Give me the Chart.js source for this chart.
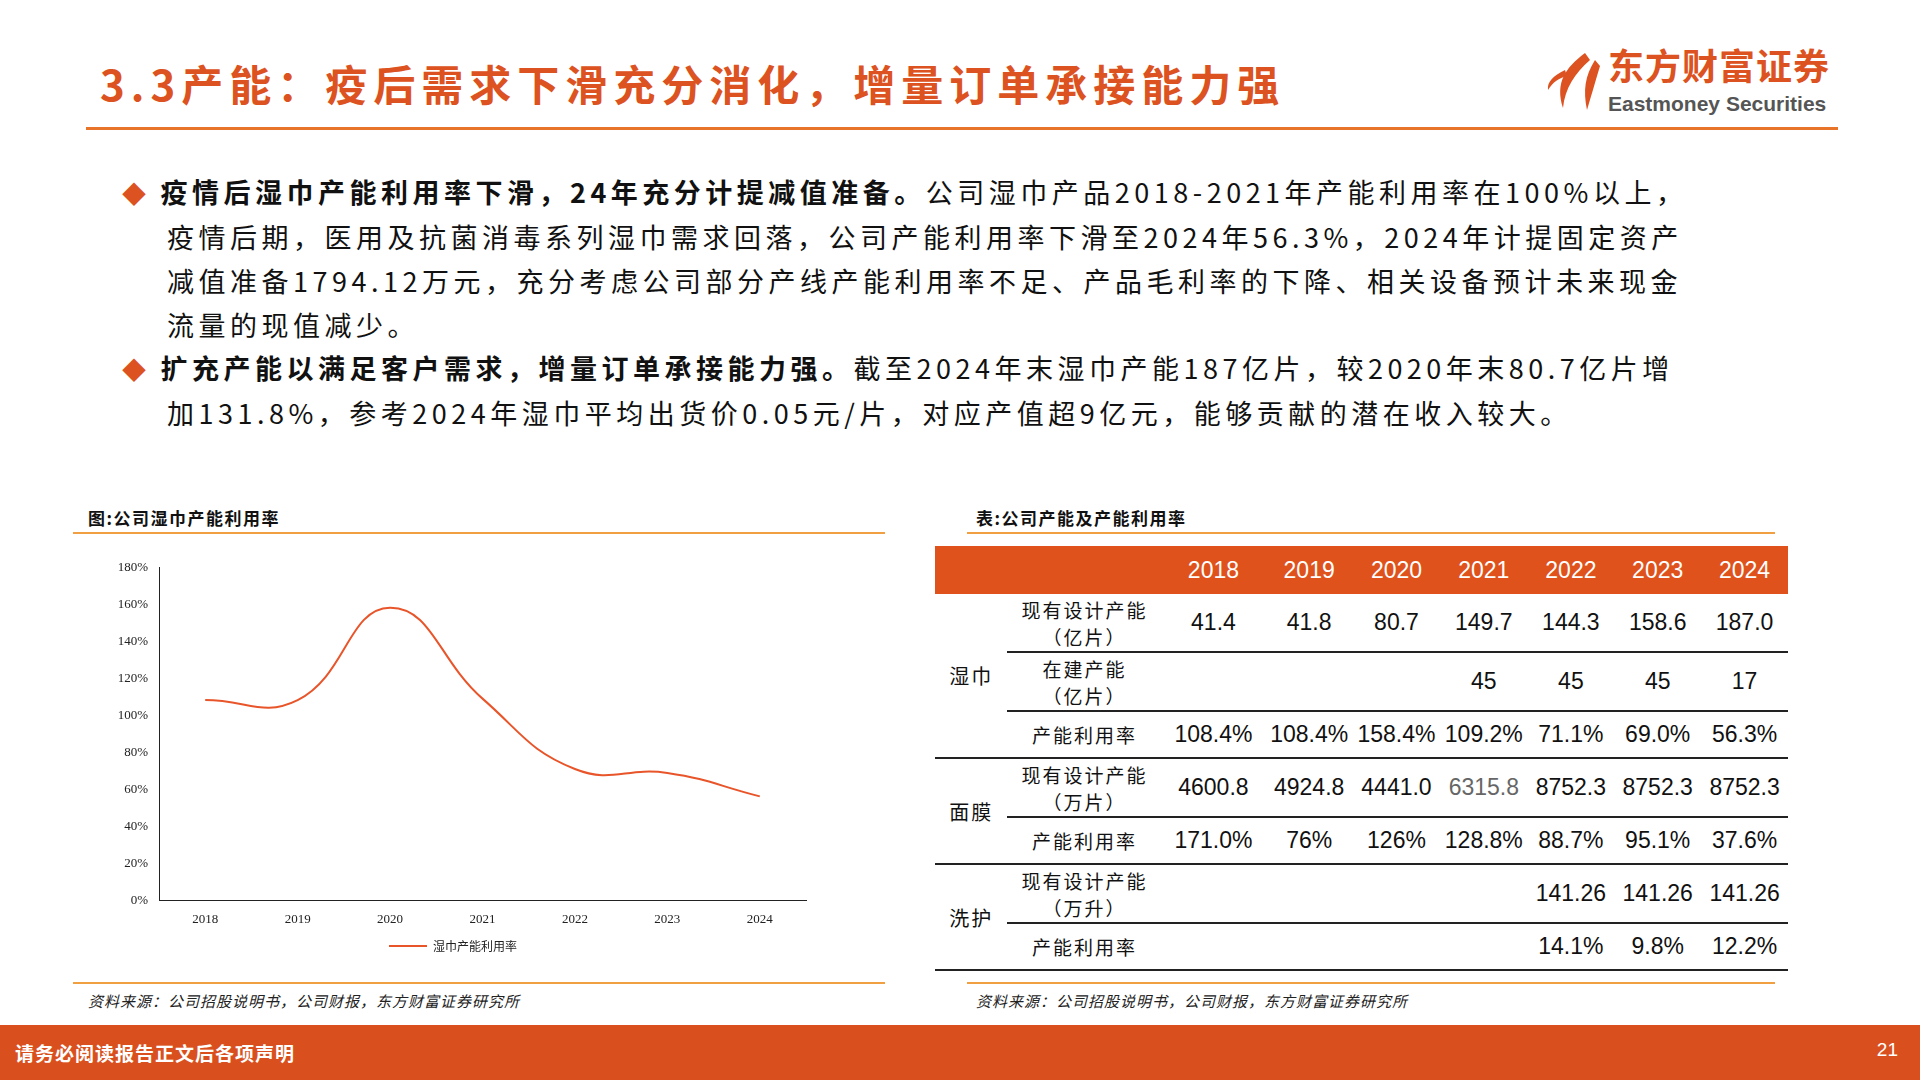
<!DOCTYPE html>
<html><head><meta charset="utf-8">
<script src="https://cdn.jsdelivr.net/npm/chart.js@4"></script>
<style>
body{margin:0;width:1920px;height:1080px;position:relative;background:#fff;font-family:"Noto Sans CJK SC",sans-serif;overflow:hidden}
.abs{position:absolute}
#title{left:100px;top:52px;font-size:42px;font-weight:bold;color:#dc5220;letter-spacing:6px}
#topline{left:86px;top:127px;width:1752px;height:3px;background:#e8742a}
.bul{left:122px;font-size:27px;color:#111;line-height:44px;width:1700px;letter-spacing:4.5px}
.bul b{font-weight:bold}
.dia{color:#dc5220;font-size:24px;margin-right:10px}
.sub{font-size:17px;font-weight:bold;color:#111;letter-spacing:1.5px}
.oline{height:2px;background:#f0a040}
.src{font-size:15px;font-style:italic;color:#222;letter-spacing:1px}
#foot{left:0;top:1025px;width:1920px;height:55px;background:#d9501e;color:#fff}
table{border-collapse:collapse;font-family:Arial,"Noto Sans CJK SC",sans-serif;font-size:23px;color:#111}
td{text-align:center;padding:0}
th{background:#e0521c;color:#fff;font-weight:normal;height:46px;font-size:23px}
</style></head><body>
<div class="abs" id="title">3.3产能：疫后需求下滑充分消化，增量订单承接能力强</div>
<div class="abs" style="left:1545px;top:48px;">
  <svg width="60" height="65" viewBox="0 0 60 65"><path d="M40 5 C20 20 10 35 18 60 C20 40 30 25 45 12Z" fill="#dc5220"/><path d="M50 12 C40 28 38 42 42 62 C48 42 52 28 55 18Z" fill="#dc5220"/><path d="M20 22 C8 28 2 34 3 42 C8 34 14 30 22 28Z" fill="#dc5220"/></svg>
</div>
<div class="abs" style="left:1608px;top:40px;font-size:36px;line-height:48px;font-weight:bold;color:#dc5220;letter-spacing:1px">东方财富证券</div>
<div class="abs" style="left:1608px;top:92px;font-size:21px;line-height:24px;font-weight:bold;color:#555;font-family:Arial">Eastmoney Securities</div>
<div class="abs" id="topline"></div>

<div class="abs bul" style="top:170px"><span class="dia">◆</span><b>疫情后湿巾产能利用率下滑，24年充分计提减值准备。</b>公司湿巾产品2018-2021年产能利用率在100%以上，<br><span style="margin-left:45px"></span>疫情后期，医用及抗菌消毒系列湿巾需求回落，公司产能利用率下滑至2024年56.3%，2024年计提固定资产<br><span style="margin-left:45px"></span>减值准备1794.12万元，充分考虑公司部分产线产能利用率不足、产品毛利率的下降、相关设备预计未来现金<br><span style="margin-left:45px"></span>流量的现值减少。</div>
<div class="abs bul" style="top:346px"><span class="dia">◆</span><b>扩充产能以满足客户需求，增量订单承接能力强。</b>截至2024年末湿巾产能187亿片，较2020年末80.7亿片增<br><span style="margin-left:45px"></span>加131.8%，参考2024年湿巾平均出货价0.05元/片，对应产值超9亿元，能够贡献的潜在收入较大。</div>

<div class="abs sub" style="left:88px;top:505px">图:公司湿巾产能利用率</div>
<div class="abs oline" style="left:73px;top:532px;width:812px"></div>
<div class="abs" style="left:100px;top:557px;width:712px;height:405px"><canvas id="grafico"></canvas></div>
<div class="abs oline" style="left:73px;top:982px;width:812px"></div>
<div class="abs src" style="left:88px;top:990px">资料来源：公司招股说明书，公司财报，东方财富证券研究所</div>

<div class="abs sub" style="left:976px;top:505px">表:公司产能及产能利用率</div>
<div class="abs oline" style="left:967px;top:532px;width:808px"></div>
<div class="abs" style="left:935px;top:546px;width:853px"><table id="tabla" style="width:853px"></table></div>
<div class="abs oline" style="left:967px;top:982px;width:808px"></div>
<div class="abs src" style="left:976px;top:990px">资料来源：公司招股说明书，公司财报，东方财富证券研究所</div>

<div class="abs" id="foot"><span style="position:absolute;left:15px;top:14px;font-size:19px;font-weight:bold;letter-spacing:1px">请务必阅读报告正文后各项声明</span><span style="position:absolute;right:22px;top:14px;font-size:19px;font-family:Arial">21</span></div>
<script>
const years = ['2018', '2019', '2020', '2021', '2022', '2023', '2024']
const utilizacionWipes = [108.4, 108.4, 158.4, 109.2, 71.1, 69.0, 56.3]

const filasTabla = [
    ['湿巾', ['现有设计产能', '（亿片）'], ['41.4', '41.8', '80.7', '149.7', '144.3', '158.6', '187.0']],
    ['', ['在建产能', '（亿片）'], ['', '', '', '45', '45', '45', '17']],
    ['', ['产能利用率'], ['108.4%', '108.4%', '158.4%', '109.2%', '71.1%', '69.0%', '56.3%']],
    ['面膜', ['现有设计产能', '（万片）'], ['4600.8', '4924.8', '4441.0', '6315.8', '8752.3', '8752.3', '8752.3']],
    ['', ['产能利用率'], ['171.0%', '76%', '126%', '128.8%', '88.7%', '95.1%', '37.6%']],
    ['洗护', ['现有设计产能', '（万升）'], ['', '', '', '', '141.26', '141.26', '141.26']],
    ['', ['产能利用率'], ['', '', '', '', '14.1%', '9.8%', '12.2%']]
]
const grupos = { '湿巾': 3, '面膜': 2, '洗护': 2 }

const crearTabla = () => {
    const tabla = document.querySelector('#tabla')
    let html = '<tr><th style="width:74px"></th><th style="width:160px"></th>' +
        years.map((y, i) => `<th style="width:${i === 0 ? 104 : 86}px">${y}</th>`).join('') + '</tr>'
    filasTabla.forEach((fila, i) => {
        const borde = 'border-bottom:2px solid #222'
        html += '<tr>'
        if (fila[0]) html += `<td rowspan="${grupos[fila[0]]}" style="${borde};font-family:'Noto Sans CJK SC';font-size:20px;letter-spacing:2px">${fila[0]}</td>`
        const h = fila[1].length > 1 ? 57 : 45
        const etiqueta = fila[1].map(t => `<div style="height:27px;line-height:27px">${t}</div>`).join('')
        html += `<td style="${borde};height:${h}px;font-family:'Noto Sans CJK SC';font-size:19px;letter-spacing:2px">${etiqueta}</td>`
        fila[2].forEach((v, j) => {
            const gris = (i === 3 && j === 3) ? ';color:#666' : ''
            html += `<td style="${borde}${gris}">${v}</td>`
        })
        html += '</tr>'
    })
    tabla.innerHTML = html
}
crearTabla()

const pintarGrafico = () => {
    const ctx = document.getElementById('grafico')
    new Chart(ctx, {
        type: 'line',
        data: {
            labels: years,
            datasets: [{
                label: '湿巾产能利用率',
                data: utilizacionWipes,
                borderColor: '#e8552a',
                backgroundColor: '#e8552a',
                borderWidth: 2,
                pointRadius: 0,
                tension: 0.45
            }]
        },
        options: {
            responsive: true,
            maintainAspectRatio: false,
            animation: false,
            layout: { padding: { top: 8, right: 6 } },
            plugins: {
                legend: {
                    position: 'bottom',
                    labels: {
                        boxWidth: 38, boxHeight: 0, color: '#222',
                        font: { family: '"Noto Sans CJK SC"', size: 12 }
                    }
                },
                tooltip: { enabled: false }
            },
            scales: {
                x: {
                    offset: true,
                    grid: { display: false },
                    border: { color: '#222' },
                    ticks: { color: '#222', font: { family: '"Liberation Serif"', size: 13 } }
                },
                y: {
                    min: 0, max: 180,
                    afterFit: (s) => { s.width = 59 },
                    grid: { display: false },
                    border: { color: '#222' },
                    ticks: {
                        stepSize: 20, color: '#222',
                        font: { family: '"Liberation Serif"', size: 13 },
                        callback: (v) => v + '%'
                    }
                }
            }
        }
    })
}
pintarGrafico()
</script>
</body></html>
